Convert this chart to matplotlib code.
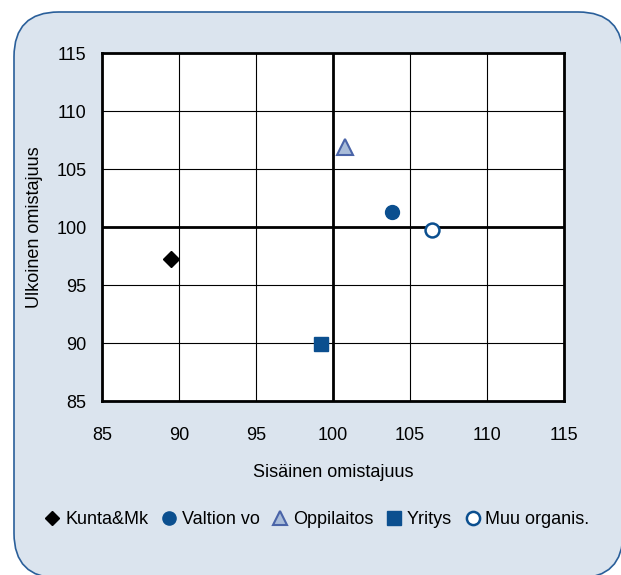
"""
Omistajuus-kuvio: sisäinen vs. ulkoinen omistajuus organisaatiotyypeittäin.
"""

import matplotlib.pyplot as plt
from matplotlib.patches import FancyBboxPatch
from matplotlib.lines import Line2D

plt.rcParams["font.family"] = ["Liberation Sans", "DejaVu Sans"]

# ── Data ──────────────────────────────────────────────────────────────────
groups = ["Kunta&Mk", "Valtion vo", "Oppilaitos", "Yritys", "Muu organis."]
sisainen = [89.5, 103.8, 100.8, 99.2, 106.4]
ulkoinen = [97.2, 101.3, 106.9, 89.9, 99.7]
ticks = [85, 90, 95, 100, 105, 110, 115]

# ── Styles per group ──────────────────────────────────────────────────────
BLUE = "#0b4f8f"
styles = [
    dict(marker="D", color="black", mec="black", ms=8),
    dict(marker="o", color=BLUE, mec=BLUE, ms=10),
    dict(marker="^", color="#a9bcd9", mec="#4a64a8", ms=11, mew=1.5),
    dict(marker="s", color=BLUE, mec=BLUE, ms=10),
    dict(marker="o", color="white", mec=BLUE, ms=10, mew=1.8),
]

fig = plt.figure(figsize=(6.21, 5.75), dpi=100)

# rounded background panel (runs off the right and bottom edges)
panel = FancyBboxPatch((14 / 621, 1 - 578 / 575), 609 / 621, 566 / 575,
                       boxstyle="round,pad=0,rounding_size=0.072",
                       transform=fig.transFigure, facecolor="#dbe4ee",
                       edgecolor="#2a5f9a", linewidth=1.2, zorder=-5,
                       mutation_aspect=621 / 575)
fig.patches.append(panel)

ax = fig.add_axes([102 / 621, 1 - 401 / 575, 462 / 621, 348 / 575])
ax.set_zorder(2)
ax.set_facecolor("white")

for x, y, st in zip(sisainen, ulkoinen, styles):
    ax.plot([x], [y], linestyle="none", zorder=5, **st)

ax.set_xlim(85, 115)
ax.set_ylim(85, 115)
ax.set_xticks(ticks)
ax.set_yticks(ticks)
ax.grid(True, color="black", linewidth=0.8)
ax.axvline(100, color="black", linewidth=2, zorder=3)
ax.axhline(100, color="black", linewidth=2, zorder=3)
for s in ax.spines.values():
    s.set_linewidth(2)
ax.tick_params(length=0, labelsize=13)
ax.tick_params(axis="x", pad=19)
ax.tick_params(axis="y", pad=11)

ax.set_xlabel("Sisäinen omistajuus", fontsize=13, labelpad=14)
ax.set_ylabel("Ulkoinen omistajuus", fontsize=13, labelpad=10)

handles = [Line2D([], [], linestyle="none", **st) for st in styles]
leg = fig.legend(handles, groups, loc="center", bbox_to_anchor=(0.508, 0.096),
                 ncol=5, frameon=False, fontsize=13, handletextpad=0.1,
                 columnspacing=0.55, handlelength=1.2, markerscale=0.95)
leg.set_zorder(3)

plt.savefig("out.png", dpi=100)
plt.close()
